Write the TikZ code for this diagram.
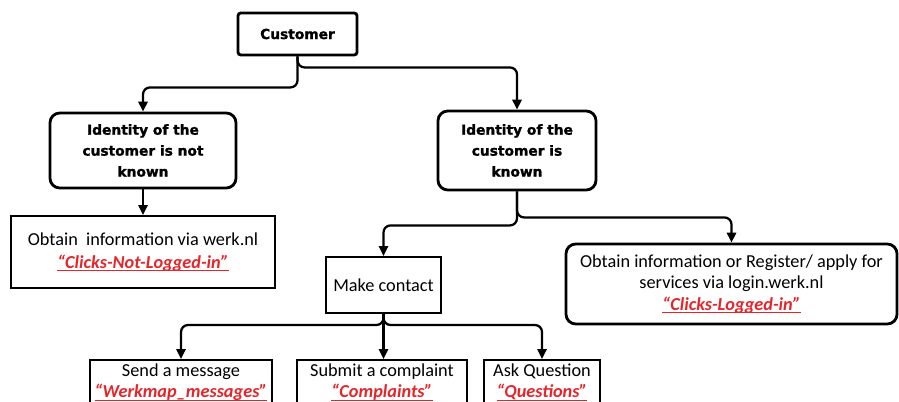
\documentclass[tikz,border=0pt]{standalone}
\usepackage{fontspec}
\setmainfont{Carlito}
\newfontfamily\headfont{DejaVu Sans}[BoldFeatures={FakeBold=1.4}]
\usepackage{tikz}
\usetikzlibrary{arrows.meta,positioning}
\definecolor{clickred}{HTML}{E5252A}
\newcommand{\clicktag}[1]{{\color{clickred}\bfseries\itshape\underline{\smash{#1}}}}
\tikzstyle{sketch} = [rectangle, draw, line width=2pt, rounded corners=7pt, align=center, font=\headfont\bfseries\fontsize{9.8}{14.9}\selectfont]
\tikzstyle{plain} = [rectangle, draw, line width=1.4pt, align=center, font=\fontsize{13}{16.3}\selectfont]
\tikzstyle{leaf} = [plain, anchor=north, inner ysep=3pt, text depth=1.2cm, font=\fontsize{13}{15}\selectfont]
\tikzstyle{arrow} = [line width=1.6pt, rounded corners=5pt, -{Triangle[length=7pt,width=6.5pt]}]

\begin{document}
\begin{tikzpicture}[x=0.025cm, y=-0.025cm]
    \clip (0,0) rectangle (899,401);

    % Customer
    \node [sketch, rounded corners=2pt, minimum width=2.975cm, minimum height=1.05cm] (customer) at (297.5,34) {Customer};

    % Identity layer
    \node [sketch, minimum width=4.65cm, minimum height=1.875cm] (unknownid) at (143,150.5) {Identity of the\\customer is not\\known};
    \node [sketch, minimum width=3.95cm, minimum height=1.975cm] (knownid) at (517,150.5) {Identity of the\\customer is\\known};

    % Obtain information
    \node [plain, minimum width=6.6cm, minimum height=1.8cm] (obtain) at (143,252) {Obtain\ \ information via werk.nl\\\clicktag{“Clicks-Not-Logged-in”}};
    \node [sketch, font=\fontsize{13}{15.3}\selectfont, minimum width=8.275cm, minimum height=2cm] (register) at (731.5,284) {Obtain information or Register/ apply for\\services via login.werk.nl\\\clicktag{“Clicks-Logged-in”}};

    % Contact
    \node [plain, minimum width=2.875cm, minimum height=1.4cm] (contact) at (383.5,285) {Make contact};
    \node [leaf, minimum width=4.55cm] (sendmsg) at (181,359) {Send a message\\\clicktag{“Werkmap\_messages”}};
    \node [leaf, minimum width=4.25cm] (complaint) at (382,359) {Submit a complaint\\\clicktag{“Complaints”}};
    \node [leaf, minimum width=2.9cm] (askq) at (542,359) {Ask Question\\\clicktag{“Questions”}};

    % Connections
    \draw [arrow] (customer.south) -- ++(0,11) -| (knownid.north);
    \draw [arrow] (customer.south) -- ++(0,31) -| (unknownid.north);
    \draw [arrow] (unknownid.south) -- (obtain.north);
    \draw [arrow] (knownid.south) -- ++(0,26) -| (register.north);
    \draw [arrow] (knownid.south) -- ++(0,34) -| (contact.north);
    \draw [arrow] (contact.south) -- ++(0,11) -| (sendmsg.north);
    \draw [arrow] (contact.south) -- (contact.south |- complaint.north);
    \draw [arrow] (contact.south) -- ++(0,11) -| (askq.north);
\end{tikzpicture}
\end{document}
